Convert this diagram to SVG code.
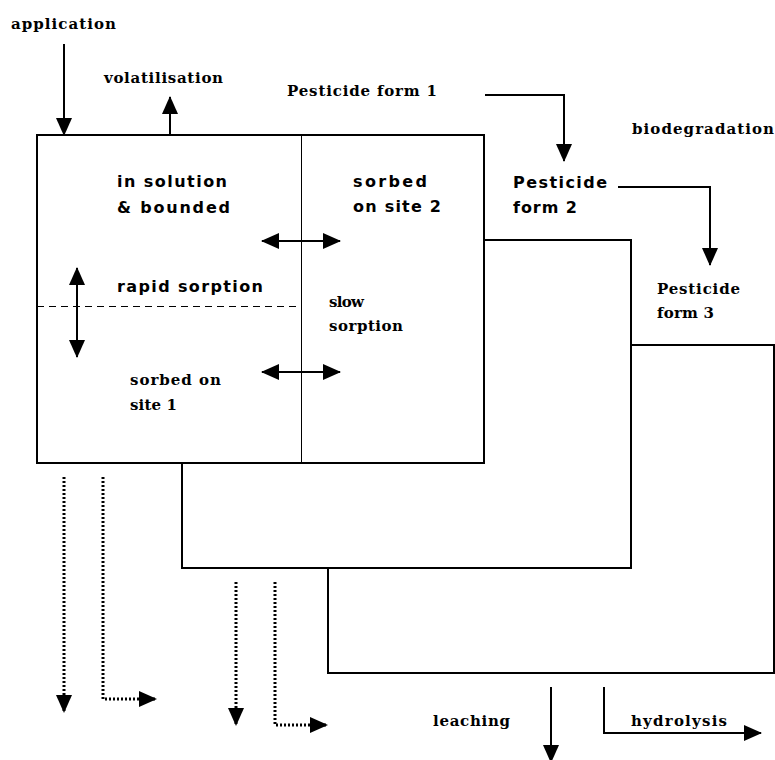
<svg xmlns="http://www.w3.org/2000/svg" width="775" height="760" viewBox="0 0 775 760">
<defs>
<marker id="ah" markerUnits="userSpaceOnUse" markerWidth="18" markerHeight="16" viewBox="0 0 18 16" refX="17" refY="8" orient="auto-start-reverse">
<path d="M0,0 L18,8 L0,16 Z" fill="#000"/>
</marker>
<style>
.s{font-family:"DejaVu Serif","Liberation Serif",serif;font-weight:bold;font-size:15px;fill:#000}
.ss{font-family:"DejaVu Sans","Liberation Sans",sans-serif;font-weight:bold;font-size:16px;fill:#000}
.box{fill:#fff;stroke:#000;stroke-width:2}
.ar{fill:none;stroke:#000;stroke-width:2}
.dt{fill:none;stroke:#000;stroke-width:3;stroke-dasharray:2 2}
</style>
</defs>
<rect width="775" height="760" fill="#fff"/>
<g id="box3"><rect class="box" x="328" y="345" width="446" height="328"/></g>
<g id="box2"><rect class="box" x="182" y="240" width="449" height="328"/></g>
<g id="box1">
<rect class="box" x="37" y="135" width="447" height="328"/>
<line x1="301.5" y1="135" x2="301.5" y2="463" stroke="#000" stroke-width="1"/>
<line x1="37" y1="306.5" x2="301" y2="306.5" stroke="#000" stroke-width="1" stroke-dasharray="7 5"/>
<text class="ss" x="117" y="187" textLength="110" lengthAdjust="spacing">in solution</text>
<text class="ss" x="117" y="213" textLength="113" lengthAdjust="spacing">&amp; bounded</text>
<text class="ss" x="117" y="292" textLength="146" lengthAdjust="spacing">rapid sorption</text>
<text class="s" x="130" y="385" textLength="91" lengthAdjust="spacing">sorbed on</text>
<text class="s" x="130" y="410" textLength="47" lengthAdjust="spacing">site 1</text>
<text class="ss" x="353" y="187" textLength="74" lengthAdjust="spacing">sorbed</text>
<text class="ss" x="353" y="212" textLength="88" lengthAdjust="spacing">on site 2</text>
<text class="s" x="329" y="307" textLength="35" lengthAdjust="spacing">slow</text>
<text class="s" x="329" y="331" textLength="74" lengthAdjust="spacing">sorption</text>
</g>
<g id="labels">
<text class="s" x="11" y="29" textLength="105" lengthAdjust="spacing">application</text>
<text class="s" x="104" y="83" textLength="119" lengthAdjust="spacing">volatilisation</text>
<text class="s" x="287" y="96" textLength="150" lengthAdjust="spacing">Pesticide form 1</text>
<text class="s" x="632" y="134" textLength="142" lengthAdjust="spacing">biodegradation</text>
<text class="ss" x="513" y="188" textLength="94" lengthAdjust="spacing">Pesticide</text>
<text class="ss" x="513" y="213" textLength="64" lengthAdjust="spacing">form 2</text>
<text class="s" x="657" y="294" textLength="83" lengthAdjust="spacing">Pesticide</text>
<text class="s" x="657" y="318" textLength="57" lengthAdjust="spacing">form 3</text>
<text class="s" x="433" y="726" textLength="77" lengthAdjust="spacing">leaching</text>
<text class="s" x="631" y="726" textLength="96" lengthAdjust="spacing">hydrolysis</text>
</g>
<g id="connectors">
<line class="ar" x1="64" y1="44" x2="64" y2="135" marker-end="url(#ah)"/>
<line class="ar" x1="170" y1="135" x2="170" y2="97" marker-end="url(#ah)"/>
<polyline class="ar" points="485,95 564,95 564,161" marker-end="url(#ah)"/>
<polyline class="ar" points="618,187 710,187 710,265" marker-end="url(#ah)"/>
<line class="ar" x1="262" y1="241" x2="340" y2="241" marker-start="url(#ah)" marker-end="url(#ah)"/>
<line class="ar" x1="262" y1="372" x2="340" y2="372" marker-start="url(#ah)" marker-end="url(#ah)"/>
<line class="ar" x1="77" y1="268" x2="77" y2="357" marker-start="url(#ah)" marker-end="url(#ah)"/>
<line class="dt" x1="64" y1="477" x2="64" y2="712" marker-end="url(#ah)"/>
<polyline class="dt" points="103,477 103,699 156,699" marker-end="url(#ah)"/>
<line class="dt" x1="236" y1="582" x2="236" y2="725" marker-end="url(#ah)"/>
<polyline class="dt" points="275,582 275,725 327,725" marker-end="url(#ah)"/>
<line class="ar" x1="551" y1="687" x2="551" y2="762" marker-end="url(#ah)"/>
<polyline class="ar" points="604,687 604,733 761,733" marker-end="url(#ah)"/>
</g>
</svg>
